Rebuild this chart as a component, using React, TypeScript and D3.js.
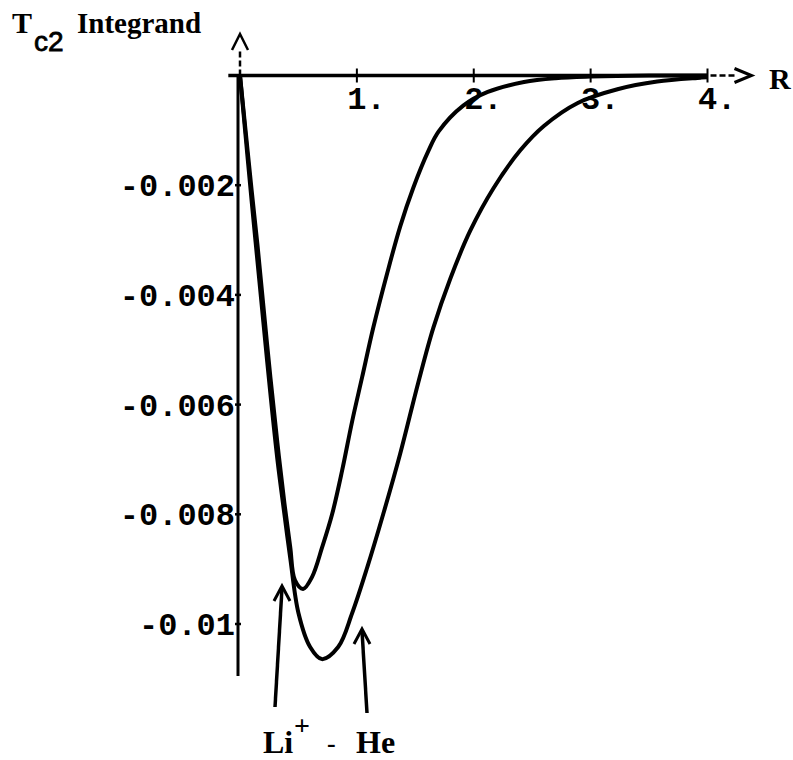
import React from "react";
import * as d3 from "d3";

const rLi = [0, 0.05, 0.1, 0.15, 0.2, 0.26, 0.32, 0.38, 0.43, 0.47, 0.54, 0.617, 0.703, 0.788, 0.874, 0.96, 1.045, 1.14, 1.26, 1.371, 1.482, 1.611, 1.7, 1.91, 2.12, 2.43, 2.7, 3.0, 3.5, 4.0];
const vLi = [0, -0.00105, -0.0021, -0.0031, -0.0042, -0.0055, -0.0067, -0.0078, -0.0086, -0.0092, -0.00936, -0.00914, -0.0086, -0.008, -0.0072, -0.0063, -0.0055, -0.0046, -0.0036, -0.00275, -0.00205, -0.00138, -0.00102, -0.00055, -0.0003, -0.00012, -0.00005, -0.00002, 0, 0];

const rHe = [0, 0.05, 0.1, 0.15, 0.2, 0.26, 0.32, 0.38, 0.43, 0.5, 0.6, 0.7, 0.84, 0.96, 1.09, 1.225, 1.37, 1.525, 1.654, 1.8, 1.97, 2.17, 2.4, 2.6, 2.89, 3.23, 3.57, 3.94, 4.0];
const vHe = [0, -0.00115, -0.0023, -0.0034, -0.0045, -0.0058, -0.0070, -0.0080, -0.0088, -0.0098, -0.01042, -0.01064, -0.01042, -0.0098, -0.00896, -0.008, -0.0069, -0.0056, -0.0046, -0.0037, -0.00283, -0.00205, -0.00136, -0.00092, -0.0005, -0.00025, -0.00011, -0.00004, -0.00003];

const xTicks = [1, 2, 3, 4];
const xTickLabels = ["1.", "2.", "3.", "4."];
const yTicks = [-0.002, -0.004, -0.006, -0.008, -0.01];
const yTickLabels = ["-0.002", "-0.004", "-0.006", "-0.008", "-0.01"];

export default function App() {
  const x = d3.scaleLinear().domain([0, 4]).range([240, 707.5]);
  const y = d3.scaleLinear().domain([0, -0.01]).range([75.5, 624]);
  const line = d3
    .line<[number, number]>()
    .x((d) => x(d[0]))
    .y((d) => y(d[1]))
    .curve(d3.curveCatmullRom.alpha(0.5));
  const li: [number, number][] = rLi.map((r, i) => [r, vLi[i]]);
  const he: [number, number][] = rHe.map((r, i) => [r, vHe[i]]);

  const ax = x(0) - 2;
  const monoFont = "'Liberation Mono', 'DejaVu Sans Mono', monospace";
  const serif = "'Liberation Serif', 'DejaVu Serif', serif";
  const x0 = x(0);
  const yTop = y(0);
  const xEnd = x(4);

  return (
    <svg
      width={793}
      height={760}
      style={{ position: "absolute", left: 0, top: 0, background: "#fff" }}
    >
      <rect x={0} y={0} width={793} height={760} fill="#fff" />
      {/* Title */}
      <text x={12} y={33} fontFamily={serif} fontWeight="bold" fontSize={30} fill="#000">
        T
      </text>
      <text x={34} y={51} fontFamily="'Liberation Sans', Arial, sans-serif" fontSize={28} fill="#000" stroke="#000" strokeWidth={0.8}>
        c2
      </text>
      <text x={77} y={33} fontFamily={serif} fontWeight="bold" fontSize={29} fill="#000">
        Integrand
      </text>

      {/* x axis */}
      <line x1={x(-0.1)} x2={xEnd} y1={yTop} y2={yTop} stroke="#000" strokeWidth={3.5} />
      <line x1={xEnd + 3} x2={xEnd + 27} y1={yTop} y2={yTop} stroke="#000" strokeWidth={2.5} strokeDasharray="6 3" />
      <path
        d={`M${xEnd + 27},${yTop - 7} L${xEnd + 44},${yTop} L${xEnd + 27},${yTop + 7}`}
        fill="none"
        stroke="#000"
        strokeWidth={3}
      />
      <text x={769} y={89} fontFamily={serif} fontWeight="bold" fontSize={30} fill="#000">
        R
      </text>
      {xTicks.map((t, i) => (
        <g key={"xt" + i}>
          <line x1={x(t)} x2={x(t)} y1={yTop - 7} y2={yTop + 7} stroke="#000" strokeWidth={2} />
          <text
            x={x(t) + 9.6}
            y={109}
            textAnchor="middle"
            fontFamily={monoFont}
            fontWeight="bold"
            fontSize={32}
            fill="#000"
          >
            {xTickLabels[i]}
          </text>
        </g>
      ))}

      {/* y axis */}
      <line x1={ax} x2={ax} y1={yTop} y2={y(-0.01095)} stroke="#000" strokeWidth={3} />
      <line x1={x0} x2={x0} y1={yTop} y2={50} stroke="#000" strokeWidth={2.5} strokeDasharray="6 3" />
      <path
        d={`M${x0 - 8},${50} L${x0},${34} L${x0 + 8},${50}`}
        fill="none"
        stroke="#000"
        strokeWidth={2.5}
      />
      {yTicks.map((t, i) => (
        <g key={"yt" + i}>
          <line x1={ax - 3} x2={ax + 3} y1={y(t)} y2={y(t)} stroke="#000" strokeWidth={2.5} />
          <text
            x={ax - 3}
            y={y(t) + 11}
            textAnchor="end"
            fontFamily={monoFont}
            fontWeight="bold"
            fontSize={32}
            fill="#000"
          >
            {yTickLabels[i]}
          </text>
        </g>
      ))}

      {/* curves */}
      <path d={line(li) || ""} fill="none" stroke="#000" strokeWidth={4} strokeLinejoin="round" />
      <path d={line(he) || ""} fill="none" stroke="#000" strokeWidth={4} strokeLinejoin="round" />

      {/* annotation arrows */}
      <path d="M274,601 L282,586 L290,601" fill="none" stroke="#000" strokeWidth={3} />
      <line x1={282} y1={588} x2={275} y2={707} stroke="#000" strokeWidth={3.5} />
      <path d="M354,644 L362,629 L370,644" fill="none" stroke="#000" strokeWidth={3} />
      <line x1={362} y1={631} x2={367} y2={713} stroke="#000" strokeWidth={3.5} />

      {/* labels */}
      <text x={263} y={753} fontFamily={serif} fontWeight="bold" fontSize={32} fill="#000">
        Li
      </text>
      <text x={294} y={735} fontFamily={serif} fontWeight="bold" fontSize={28} fill="#000">
        +
      </text>
      <text x={327} y={752} fontFamily={serif} fontWeight="bold" fontSize={26} fill="#000">
        -
      </text>
      <text x={356} y={753} fontFamily={serif} fontWeight="bold" fontSize={32} fill="#000">
        He
      </text>
    </svg>
  );
}
